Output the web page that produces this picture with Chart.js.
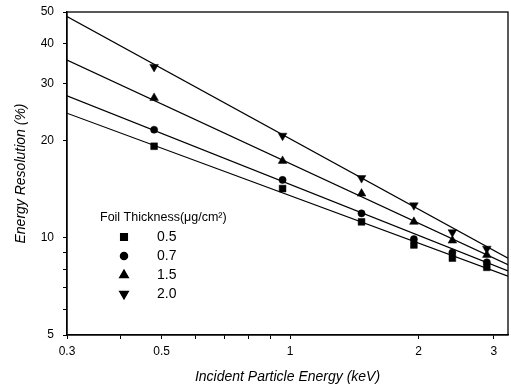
<!DOCTYPE html>
<html><head><meta charset="utf-8">
<script src="https://cdn.jsdelivr.net/npm/chart.js@4.4.1/dist/chart.umd.min.js"></script>
<style>html,body{margin:0;padding:0;background:#fff}#wrap{width:511px;height:389px}</style>
</head><body><div id="wrap"><canvas id="c" width="511" height="389"></canvas></div>
<script>
// Data
const energies = [0.48, 0.96, 1.47, 1.95, 2.40, 2.89];
const thicknessLabels = ['0.5', '0.7', '1.5', '2.0'];
const res05 = [19.2, 14.2, 11.2, 9.5, 8.65, 8.1];
const res07 = [21.6, 15.1, 11.9, 9.9, 9.0, 8.4];
const res15 = [27.1, 17.3, 13.7, 11.2, 9.8, 8.85];
const res20 = [33.8, 20.7, 15.3, 12.6, 10.4, 9.25];
// fitted power-law lines (end points at the axis limits)
const fitX = [0.3, 3.24];
const fit05 = [24.3, 7.6];
const fit07 = [27.5, 7.9];
const fit15 = [35.5, 8.25];
const fit20 = [48.4, 8.65];
const xTicks = [0.3, 0.4, 0.5, 0.6, 0.7, 0.8, 0.9, 1, 2, 3];
const xLabeled = [0.3, 0.5, 1, 2, 3];
const yTicks = [5, 6, 7, 8, 9, 10, 20, 30, 40, 50];
const yLabeled = [5, 10, 20, 30, 40, 50];

const pts = (xs, ys) => xs.map((x, i) => ({x, y: ys[i]}));
const styles = [
  {pointStyle: 'rect', radius: 4.8, rotation: 0},
  {pointStyle: 'circle', radius: 3.6, rotation: 0},
  {pointStyle: 'triangle', radius: 5, rotation: 0},
  {pointStyle: 'triangle', radius: 5, rotation: 180}
];
const series = [res05, res07, res15, res20];
const fits = [fit05, fit07, fit15, fit20];

const datasets = [];
fits.forEach((f) => datasets.push({
  type: 'line', data: pts(fitX, f), borderColor: '#000', borderWidth: 1.2,
  pointRadius: 0, fill: false, tension: 0, isFit: true
}));
series.forEach((s, i) => datasets.push({
  type: 'line', label: thicknessLabels[i], data: pts(energies, s), showLine: false,
  pointStyle: styles[i].pointStyle, pointRadius: styles[i].radius, pointRotation: styles[i].rotation,
  pointBackgroundColor: '#000', pointBorderColor: '#000', pointBorderWidth: 0.5
}));

const framePlugin = {
  id: 'frame',
  afterDraw(chart) {
    const {ctx, chartArea: a} = chart;
    ctx.save();
    ctx.strokeStyle = '#000'; ctx.lineWidth = 1.3;
    ctx.strokeRect(a.left, a.top, a.right - a.left, a.bottom - a.top);
    // legend inside plot
    const lx = a.left + 33, ty = a.top + 206;
    ctx.fillStyle = '#000';
    ctx.font = '12.5px "Liberation Sans", Arial, sans-serif';
    ctx.textBaseline = 'middle'; ctx.textAlign = 'left';
    ctx.fillText('Foil Thickness(\u03BCg/cm\u00B2)', lx, ty);
    ctx.font = '14px "Liberation Sans", Arial, sans-serif';
    const ds = chart.data.datasets.filter(d => !d.isFit);
    ds.forEach((d, i) => {
      const y = ty + 19 + i * 19;
      Chart.helpers.drawPoint(ctx, {pointStyle: d.pointStyle, radius: d.pointRadius, rotation: d.pointRotation, borderWidth: 0.5}, lx + 24, y);
      ctx.fill();
      ctx.fillText(d.label, lx + 57, y);
    });
    ctx.restore();
  }
};

new Chart(document.getElementById('c'), {
  type: 'line',
  data: {datasets},
  options: {
    responsive: false, animation: false, devicePixelRatio: 1,
    layout: {autoPadding: false, padding: {left: 0, right: 3, top: 12, bottom: 0}},
    plugins: {legend: {display: false}, tooltip: {enabled: false}},
    scales: {
      x: {
        type: 'logarithmic', min: 0.3, max: 3.24,
        afterBuildTicks: (s) => { s.ticks = xTicks.map(v => ({value: v})); },
        afterFit: (s) => { s.height = 54; s.paddingLeft = 0; s.paddingRight = 0; },
        ticks: {
          autoSkip: false, maxRotation: 0, padding: 5, color: '#000',
          font: {family: '"Liberation Sans", Arial, sans-serif', size: 12},
          callback: (v) => xLabeled.includes(v) ? String(v) : ''
        },
        grid: {drawOnChartArea: false, tickLength: 4, tickColor: '#000', drawTicks: true},
        border: {display: true, color: '#000', width: 1.3},
        title: {display: true, text: 'Incident Particle Energy (keV)', color: '#000',
          font: {family: '"Liberation Sans", Arial, sans-serif', size: 14, style: 'italic'},
          padding: {top: 2, bottom: 3}}
      },
      y: {
        type: 'logarithmic', min: 5, max: 50,
        afterBuildTicks: (s) => { s.ticks = yTicks.map(v => ({value: v})); },
        afterFit: (s) => { s.width = 67; s.paddingTop = 0; s.paddingBottom = 0; },
        ticks: {
          autoSkip: false, padding: 9, color: '#000',
          font: {family: '"Liberation Sans", Arial, sans-serif', size: 12},
          callback: (v) => yLabeled.includes(v) ? String(v) : ''
        },
        grid: {drawOnChartArea: false, tickLength: 4, tickColor: '#000', drawTicks: true},
        border: {display: true, color: '#000', width: 1.3},
        title: {display: true, text: 'Energy Resolution (%)', color: '#000',
          font: {family: '"Liberation Sans", Arial, sans-serif', size: 14, style: 'italic'},
          padding: {top: 13, bottom: 0}}
      }
    }
  },
  plugins: [framePlugin]
});
</script></body></html>
